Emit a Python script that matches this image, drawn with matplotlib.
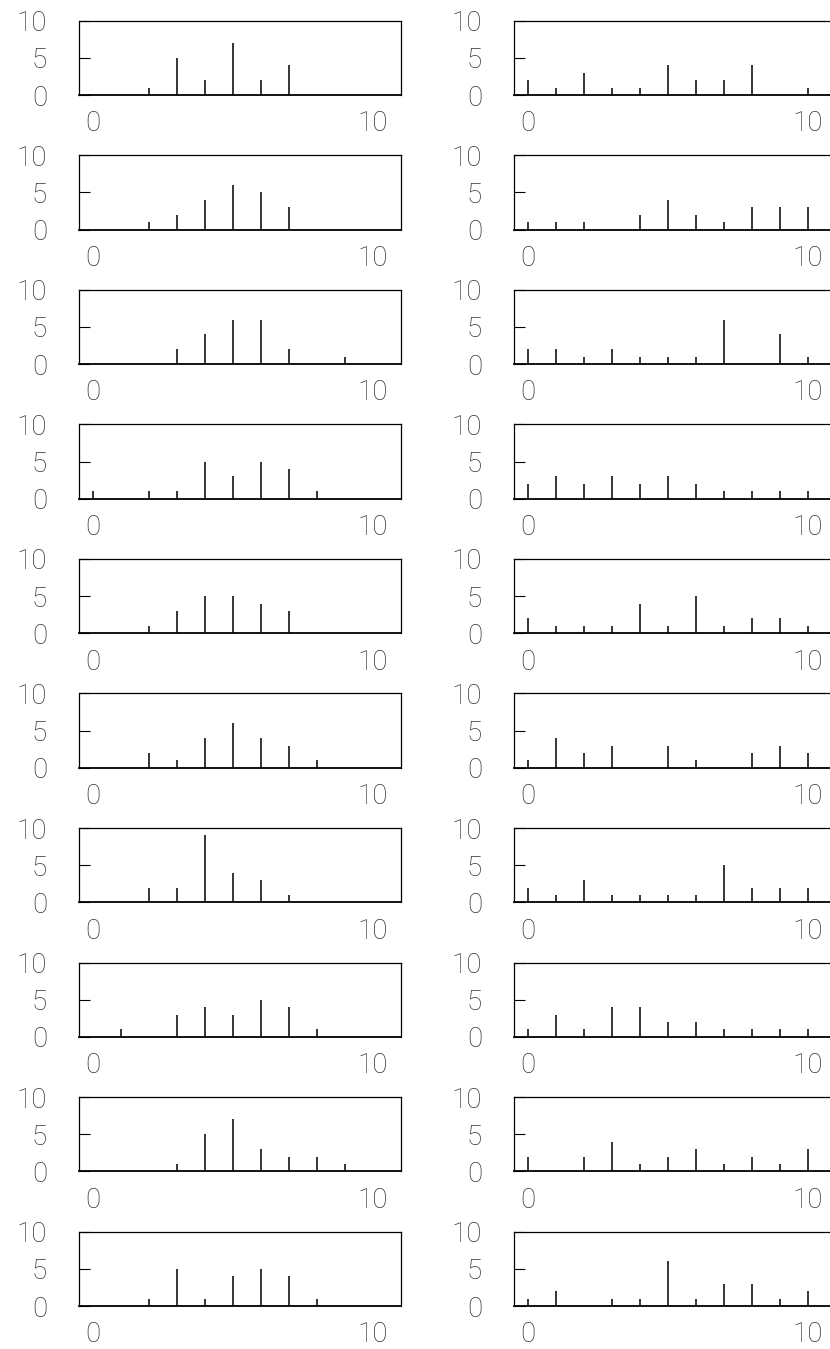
import numpy as np
import matplotlib.pyplot as plt

# counts of 21 draws per panel, outcomes 0..10
outcomes = np.arange(11)

binom_counts = [
    [0, 0, 1, 5, 2, 7, 2, 4, 0, 0, 0],
    [0, 0, 1, 2, 4, 6, 5, 3, 0, 0, 0],
    [0, 0, 0, 2, 4, 6, 6, 2, 0, 1, 0],
    [1, 0, 1, 1, 5, 3, 5, 4, 1, 0, 0],
    [0, 0, 1, 3, 5, 5, 4, 3, 0, 0, 0],
    [0, 0, 2, 1, 4, 6, 4, 3, 1, 0, 0],
    [0, 0, 2, 2, 9, 4, 3, 1, 0, 0, 0],
    [0, 1, 0, 3, 4, 3, 5, 4, 1, 0, 0],
    [0, 0, 0, 1, 5, 7, 3, 2, 2, 1, 0],
    [0, 0, 1, 5, 1, 4, 5, 4, 1, 0, 0],
]

unif_counts = [
    [2, 1, 3, 1, 1, 4, 2, 2, 4, 0, 1],
    [1, 1, 1, 0, 2, 4, 2, 1, 3, 3, 3],
    [2, 2, 1, 2, 1, 1, 1, 6, 0, 4, 1],
    [2, 3, 2, 3, 2, 3, 2, 1, 1, 1, 1],
    [2, 1, 1, 1, 4, 1, 5, 1, 2, 2, 1],
    [1, 4, 2, 3, 0, 3, 1, 0, 2, 3, 2],
    [2, 1, 3, 1, 1, 1, 1, 5, 2, 2, 2],
    [1, 3, 1, 4, 4, 2, 2, 1, 1, 1, 1],
    [2, 0, 2, 4, 1, 2, 3, 1, 2, 1, 3],
    [1, 2, 0, 1, 1, 6, 1, 3, 3, 1, 2],
]

plt.rcParams['font.family'] = ['Roboto', 'DejaVu Sans']
plt.rcParams['font.weight'] = 'light'

W, H = 830, 1349
fig = plt.figure(figsize=(W / 100, H / 100), dpi=100)

box_w, box_h = 322, 74.3
row_step = 134.56
col_left = [79, 514]
text_col = '#333333'

for col, data in enumerate([binom_counts, unif_counts]):
    for row, counts in enumerate(data):
        top = 20.7 + row * row_step
        ax = fig.add_axes([col_left[col] / W, 1 - (top + box_h) / H,
                           box_w / W, box_h / H])
        counts = np.array(counts)
        keep = counts > 0
        ax.vlines(outcomes[keep], 0, counts[keep], color='black', lw=1.1)
        ax.set_xlim(-0.5, 11)
        ax.set_ylim(0, 10)
        ax.set_xticks([0, 10])
        ax.set_yticks([0, 5, 10])
        ax.tick_params(axis='y', direction='in', length=8, width=0.8,
                       pad=23, labelsize=20, labelcolor=text_col)
        ax.tick_params(axis='x', length=0, pad=11, labelsize=20,
                       labelcolor=text_col)
        for side in ['top', 'right', 'left']:
            ax.spines[side].set_linewidth(0.9)
        ax.spines['bottom'].set_linewidth(1.3)

fig.savefig('out.png', dpi=100)
